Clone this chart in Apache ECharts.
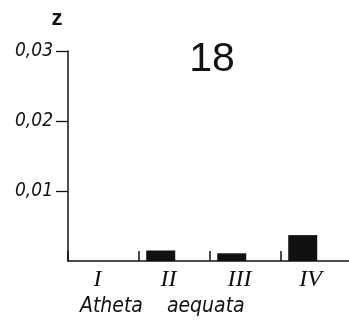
<!DOCTYPE html>
<html><head><meta charset="utf-8">
<script src="https://cdn.jsdelivr.net/npm/echarts@6/dist/echarts.min.js"></script>
<style>html,body{margin:0;padding:0;background:#fff;}#c{width:349px;height:321px;}</style>
</head><body><div id="c"></div>
<script>
const categories = ['I', 'II', 'III', 'IV'];
const values = [0, 0.0015, 0.0011, 0.0037];
const yTicks = [0.01, 0.02, 0.03];
const titleText = '18';
const axisName = 'z';
const speciesLabel = 'Atheta    aequata';

const chart = echarts.init(document.getElementById('c'), null, {renderer: 'canvas'});
const ink = '#111';
const narrow = '"DejaVu Sans Condensed", "Liberation Sans", sans-serif';
chart.setOption({
  backgroundColor: '#fff',
  animation: false,
  grid: {left: 68, width: 284, top: 51, bottom: 60, containLabel: false, outerBoundsMode: 'none'},
  xAxis: {
    type: 'category',
    data: categories,
    boundaryGap: true,
    axisLine: {show: true, lineStyle: {color: ink, width: 1.5}},
    axisTick: {show: true, inside: true, interval: 0, length: 10, alignWithLabel: false, lineStyle: {color: ink, width: 1.5}},
    axisLabel: {
      interval: 0,
      color: ink, fontFamily: 'Liberation Serif', fontStyle: 'italic', fontSize: 24,
      margin: 7, padding: [0, 12, 0, 0]
    },
    splitLine: {show: false}
  },
  yAxis: {
    type: 'value',
    min: 0, max: 0.03, interval: 0.01,
    axisLine: {show: true, lineStyle: {color: ink, width: 1.5}},
    axisTick: {show: true, inside: false, length: 12, customValues: yTicks, lineStyle: {color: ink, width: 1.3}},
    axisLabel: {
      customValues: yTicks,
      color: ink, fontFamily: narrow, fontStyle: 'italic', fontSize: 19,
      margin: 15,
      formatter: v => v.toFixed(2).replace('.', ',')
    },
    splitLine: {show: false}
  },
  series: [
    {type: 'bar', data: values, barWidth: 29, barGap: '-5%', itemStyle: {color: ink}},
    {type: 'bar', data: values.map(() => null), barWidth: 29, itemStyle: {color: 'transparent'}}
  ],
  graphic: [
    {type: 'text', x: 212, y: 60, style: {text: titleText, font: '41px "Liberation Sans"', fill: ink, textAlign: 'center', textVerticalAlign: 'middle'}},
    {type: 'text', x: 57, y: 19, style: {text: axisName, font: 'bold 22px "Liberation Sans"', fill: ink, textAlign: 'center', textVerticalAlign: 'middle'}},
    {type: 'text', x: 80, y: 307, style: {text: speciesLabel, font: 'italic 21px ' + narrow, fill: ink, textAlign: 'left', textVerticalAlign: 'middle'}}
  ]
});
</script>
</body></html>
